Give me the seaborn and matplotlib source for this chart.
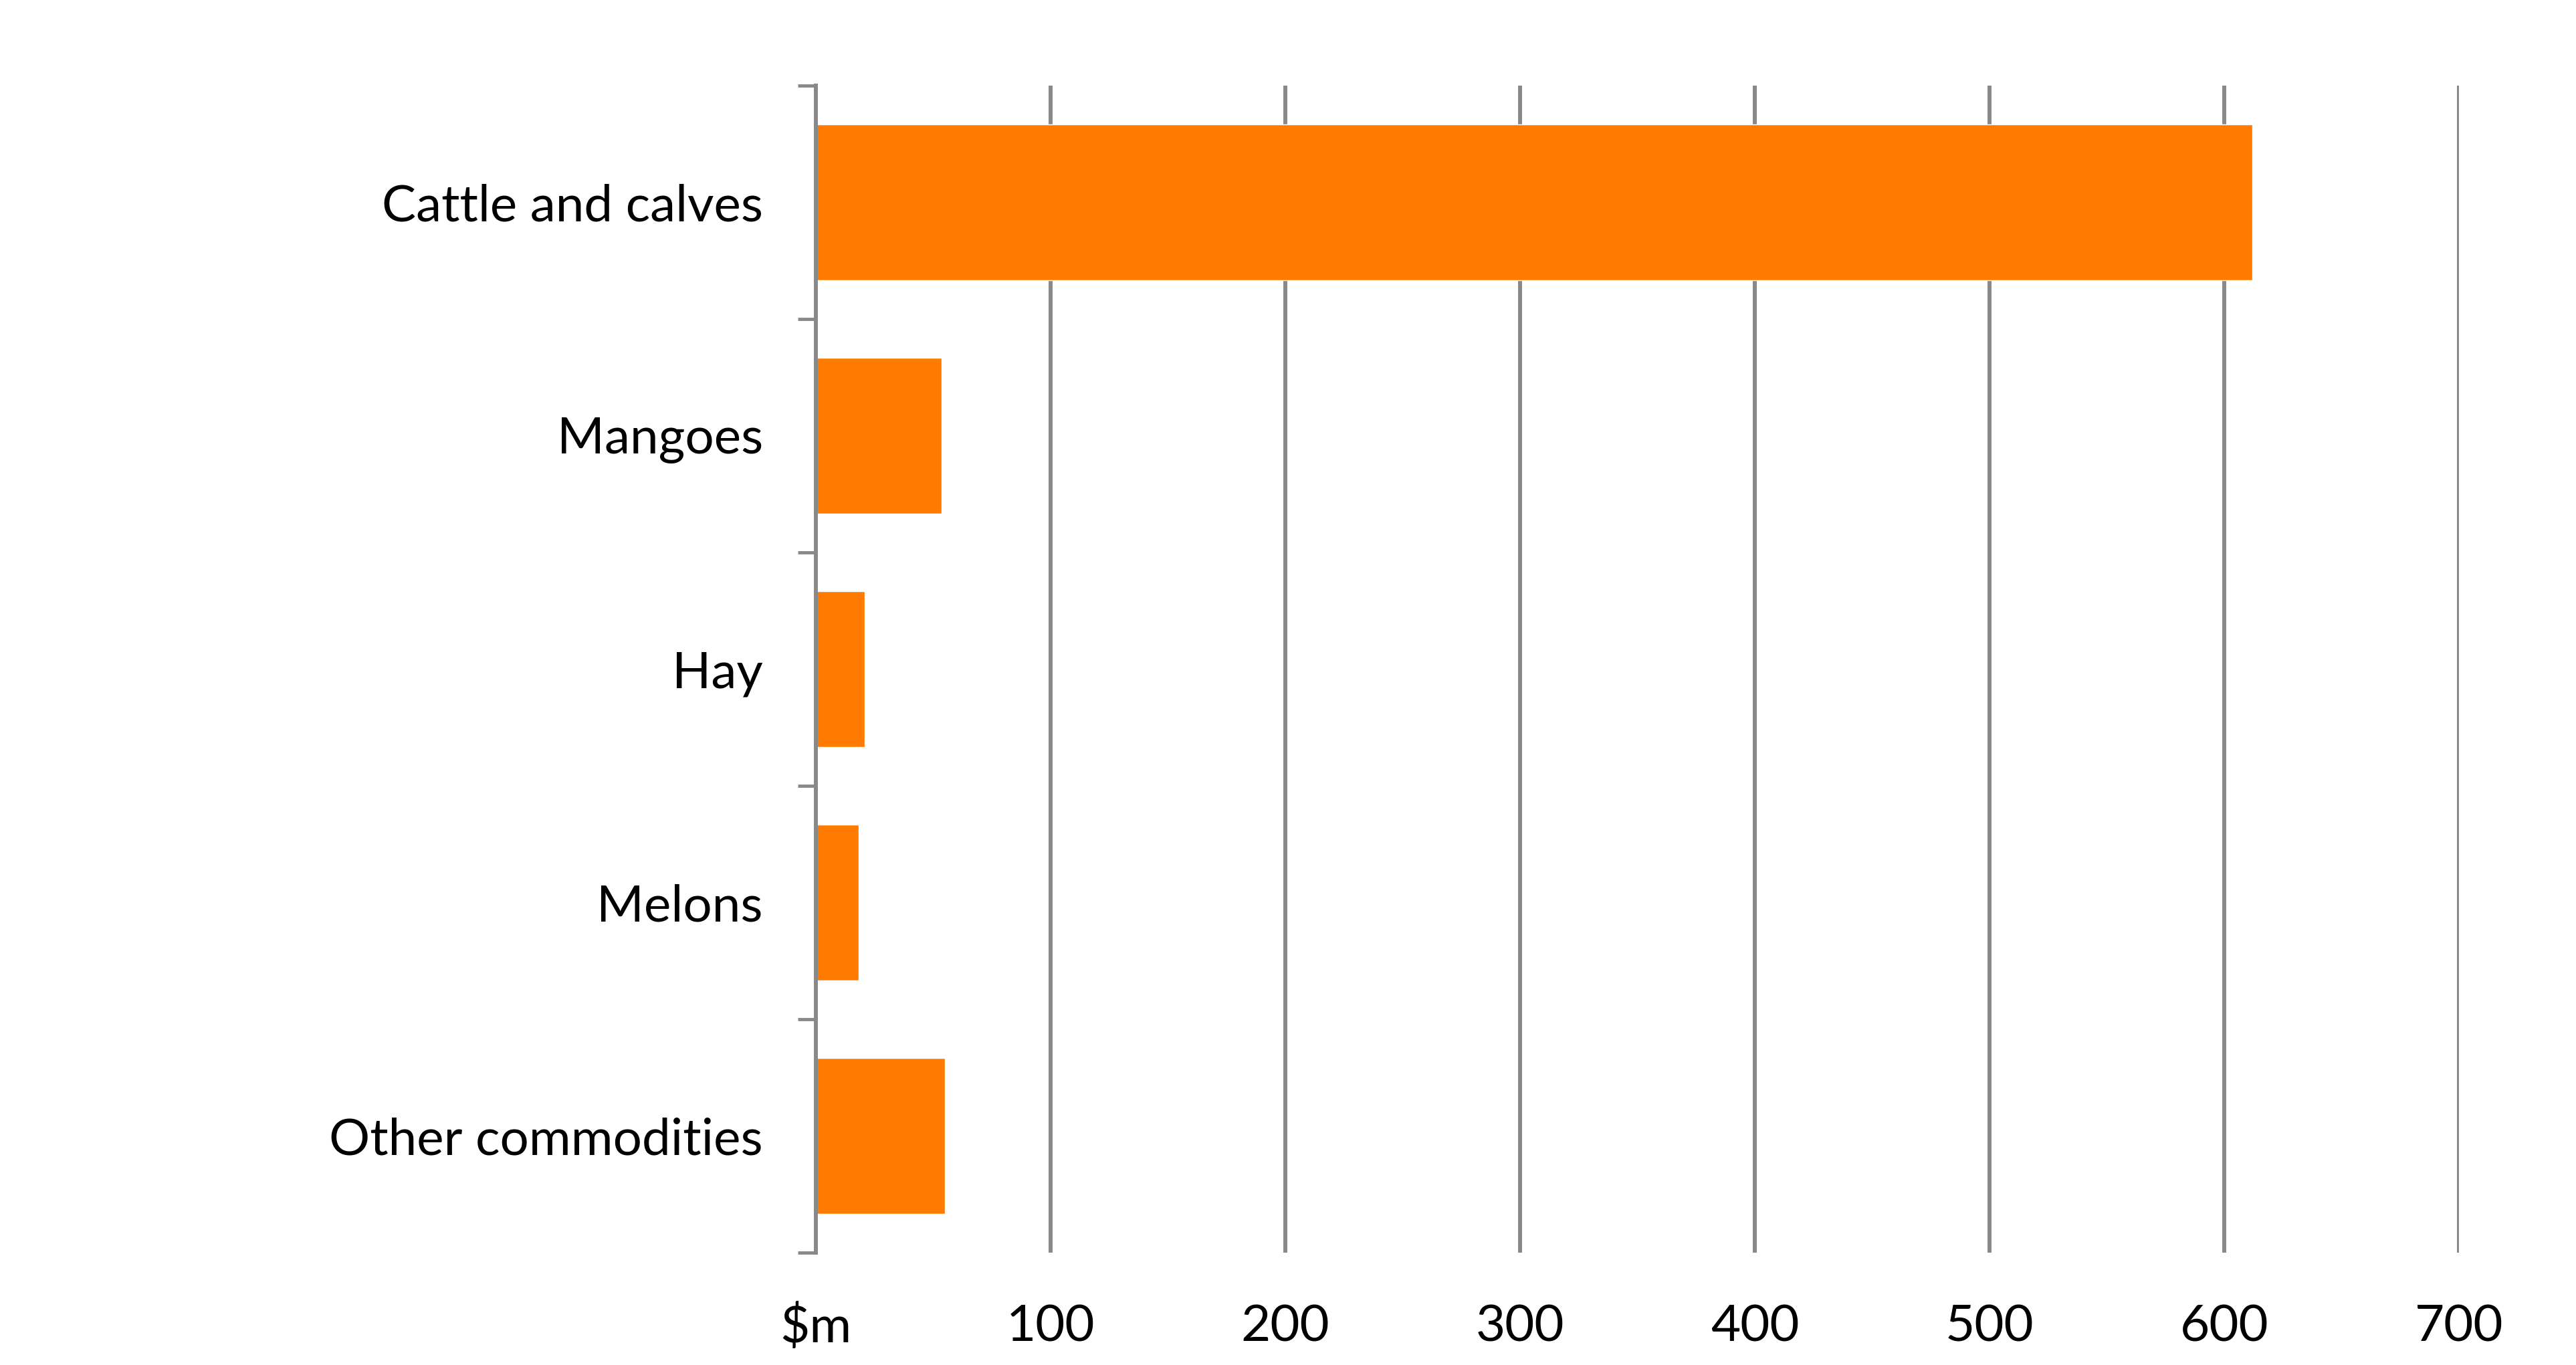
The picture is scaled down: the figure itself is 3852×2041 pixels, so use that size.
import matplotlib
matplotlib.use("Agg")
import matplotlib.pyplot as plt
import pandas as pd
import seaborn as sns

categories = ["Cattle and calves", "Mangoes", "Hay", "Melons", "Other commodities"]
values = [612, 53.5, 20.8, 18.2, 55]
x_ticks = [0, 100, 200, 300, 400, 500, 600, 700]
x_tick_labels = ["$m", "100", "200", "300", "400", "500", "600", "700"]

df = pd.DataFrame({"commodity": categories, "value": values})

sns.set_theme(style="white")
plt.rcParams["font.family"] = ["Lato", "DejaVu Sans"]

grey = "#898989"

fig = plt.figure(figsize=(38.52, 20.41), dpi=100)
ax = fig.add_axes([0.3167, 0.0823, 0.9546 - 0.3167, 0.9373 - 0.0823])

sns.barplot(
    data=df,
    x="value",
    y="commodity",
    order=categories,
    color="#FF7A00",
    saturation=1,
    width=0.667,
    ax=ax,
    zorder=3,
)

ax.set_xlim(0, 700)
ax.set_ylim(4.5, -0.5)
ax.set_xticks(x_ticks)
ax.set_xticklabels(x_tick_labels)
ax.set_xlabel("")
ax.set_ylabel("")

ax.grid(axis="x", color=grey, linewidth=4.3, zorder=0)
ax.grid(axis="y", visible=False)
ax.set_axisbelow(True)

for side in ["top", "right", "bottom"]:
    ax.spines[side].set_visible(False)
ax.spines["left"].set_color(grey)
ax.spines["left"].set_linewidth(4.3)
ax.spines["left"].set_zorder(4)

ax.set_yticks([i - 0.5 for i in range(len(categories) + 1)], minor=True)
ax.tick_params(axis="y", which="minor", length=19.5, width=3.5, color=grey, left=True)
ax.tick_params(axis="y", which="major", length=0, pad=57, labelsize=55, labelcolor="black")
ax.tick_params(axis="x", which="major", length=0, pad=55, labelsize=55, labelcolor="black")

fig.savefig("out.png", dpi=100, facecolor="white")
